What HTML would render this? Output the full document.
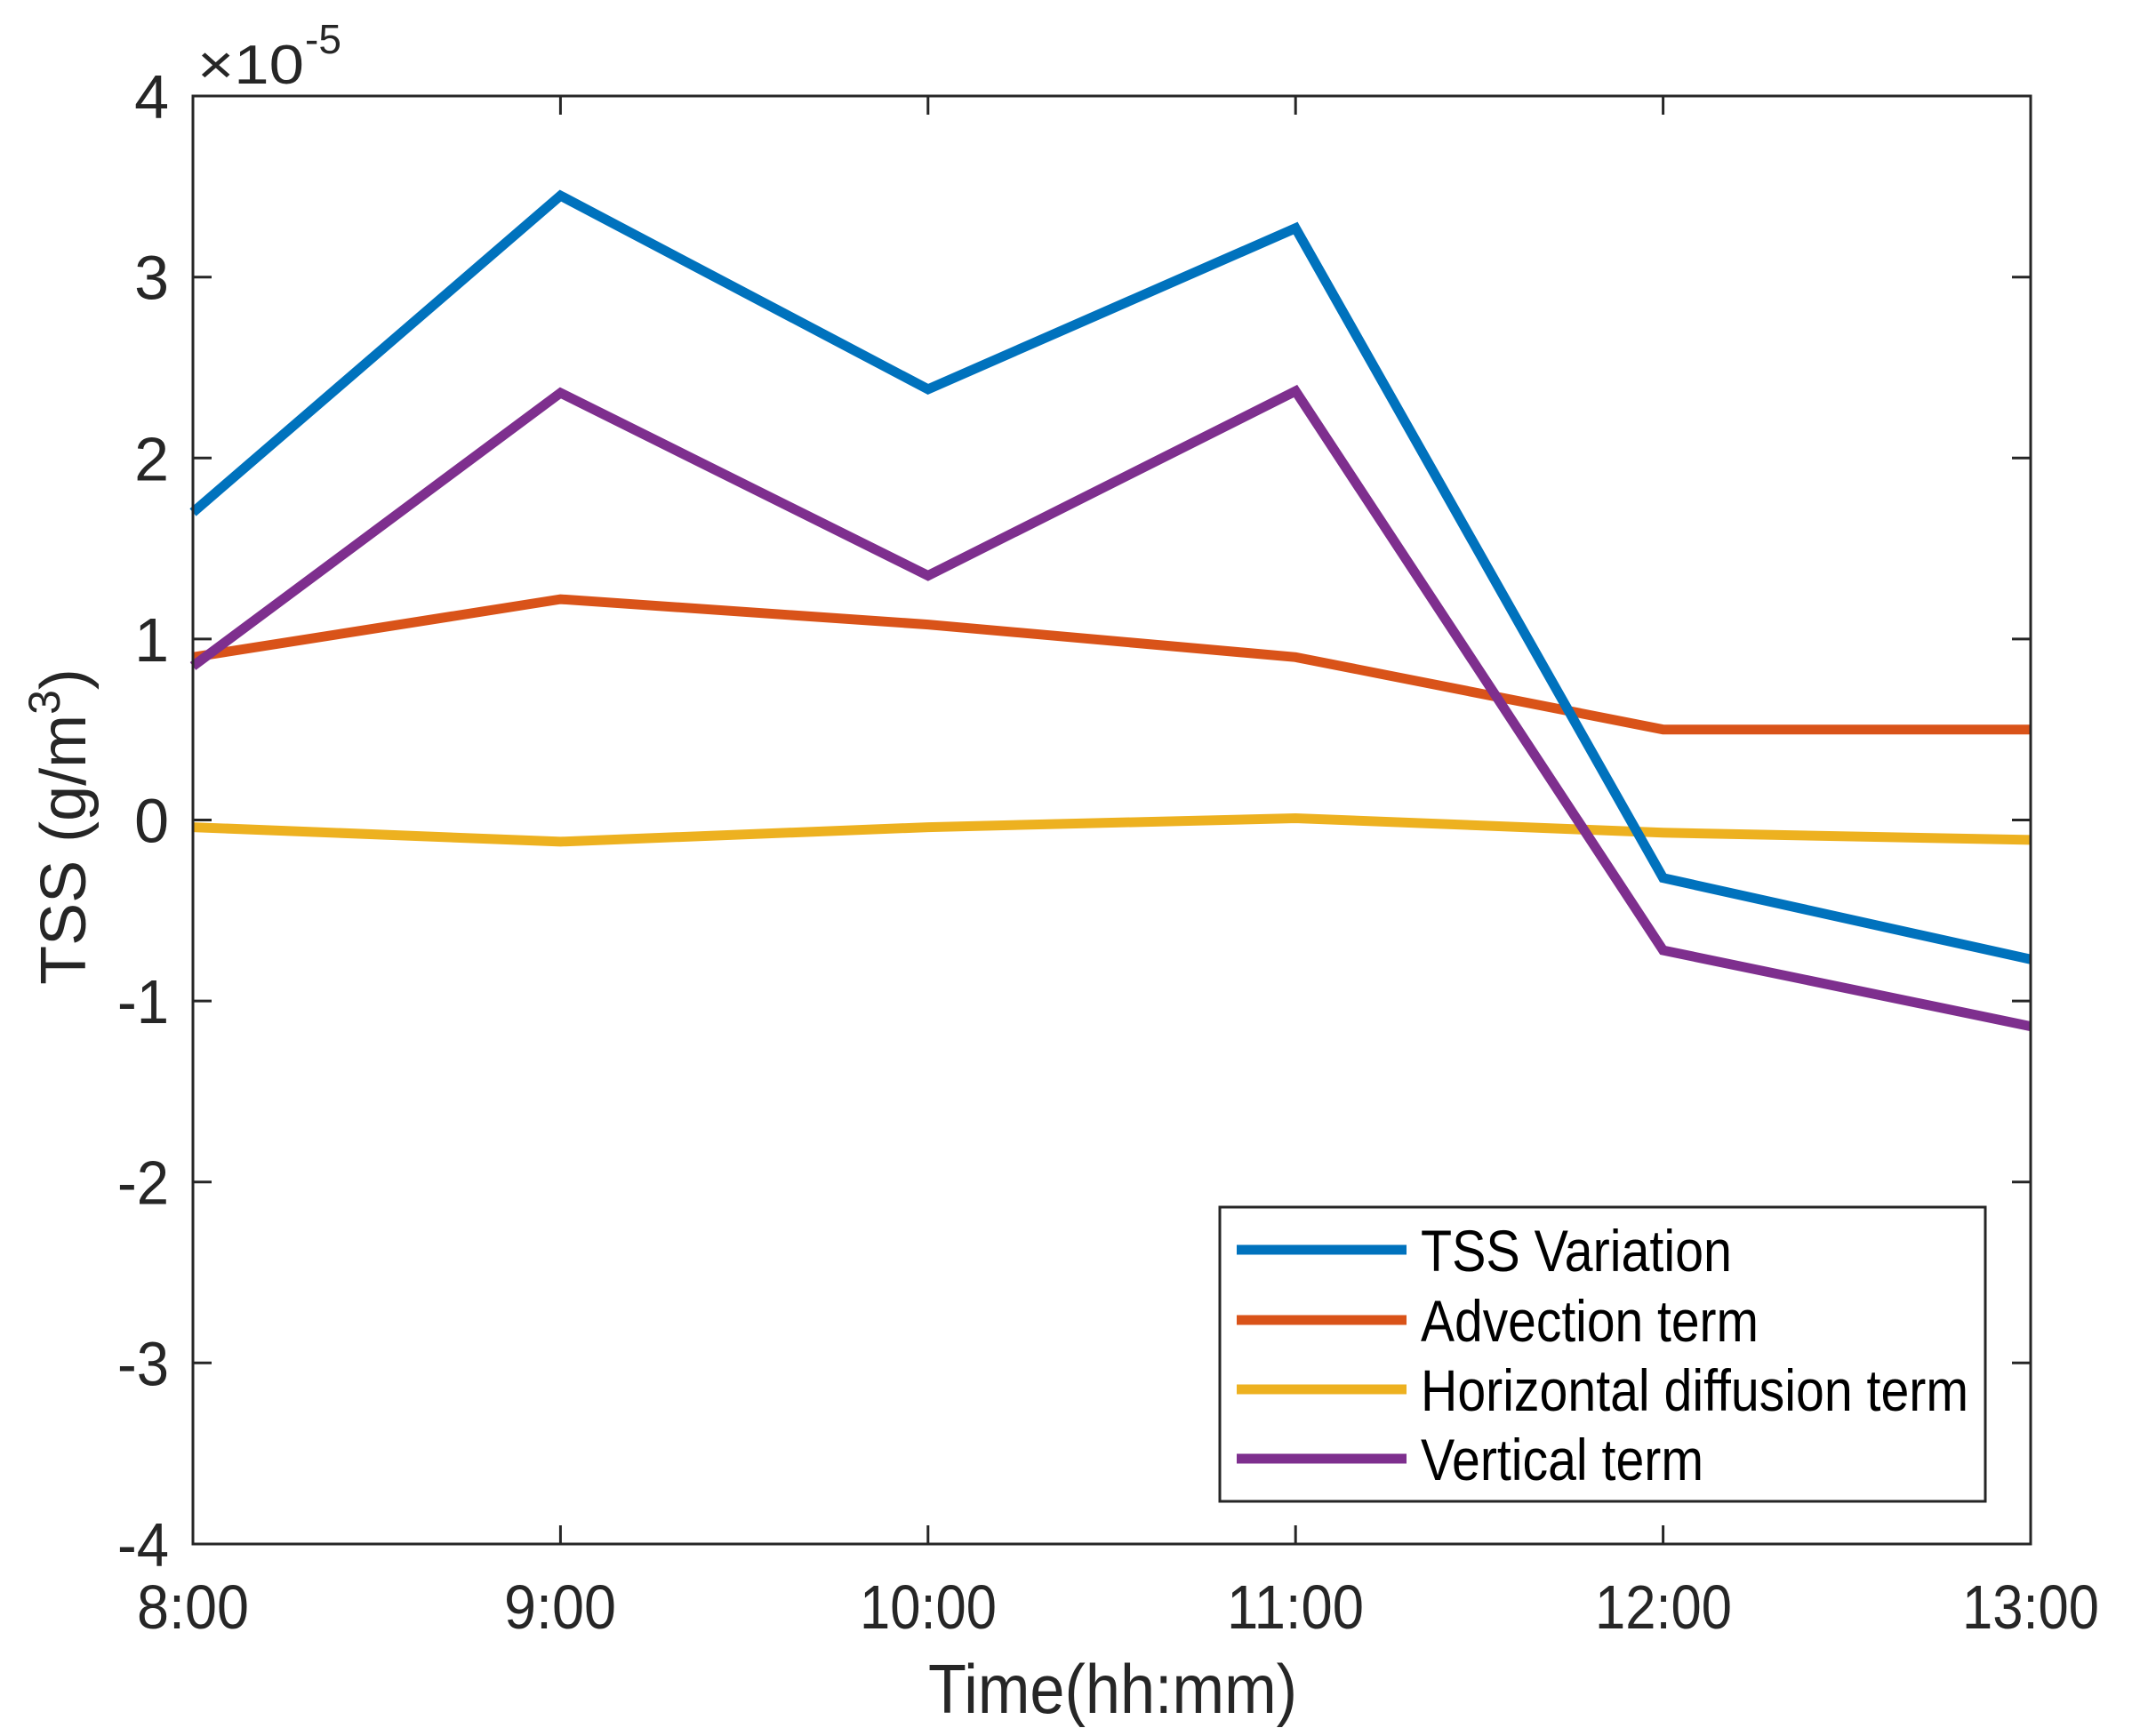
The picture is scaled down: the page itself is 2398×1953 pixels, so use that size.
<!DOCTYPE html>
<html><head><meta charset="utf-8"><style>
html,body{margin:0;padding:0;background:#fff;}
svg{display:block;}
text{font-family:"Liberation Sans",Arial,sans-serif;fill:#262626;}
</style></head><body>
<svg width="2398" height="1953" viewBox="0 0 2398 1953" xmlns="http://www.w3.org/2000/svg">
<rect width="2398" height="1953" fill="#fff"/>
<g fill="none" stroke-width="11" stroke-linejoin="miter" stroke-linecap="butt">
<polyline stroke="#EDB120" points="217,930.6 630.4,946.9 1043.8,930.6 1457.2,920.5 1870.6,936.8 2284,944.9"/>
<polyline stroke="#D95319" points="217,739.3 630.4,674.1 1043.8,702.6 1457.2,739.3 1870.6,820.7 2284,820.7"/>
<polyline stroke="#7E2F8E" points="217,749.4 630.4,442.0 1043.8,647.6 1457.2,440.0 1870.6,1069.1 2284,1154.6"/>
<polyline stroke="#0072BD" points="217,576.4 630.4,220.1 1043.8,437.9 1457.2,256.7 1870.6,987.7 2284,1079.3"/>
</g>
<rect x="217" y="108" width="2067" height="1629" fill="none" stroke="#262626" stroke-width="3"/>
<g stroke="#262626" stroke-width="3">
<line x1="630.4" y1="1737" x2="630.4" y2="1716"/><line x1="630.4" y1="108" x2="630.4" y2="129"/>
<line x1="1043.8" y1="1737" x2="1043.8" y2="1716"/><line x1="1043.8" y1="108" x2="1043.8" y2="129"/>
<line x1="1457.2" y1="1737" x2="1457.2" y2="1716"/><line x1="1457.2" y1="108" x2="1457.2" y2="129"/>
<line x1="1870.6" y1="1737" x2="1870.6" y2="1716"/><line x1="1870.6" y1="108" x2="1870.6" y2="129"/>
<line x1="217" y1="311.7" x2="238" y2="311.7"/><line x1="2284" y1="311.7" x2="2263" y2="311.7"/>
<line x1="217" y1="515.3" x2="238" y2="515.3"/><line x1="2284" y1="515.3" x2="2263" y2="515.3"/>
<line x1="217" y1="718.9" x2="238" y2="718.9"/><line x1="2284" y1="718.9" x2="2263" y2="718.9"/>
<line x1="217" y1="922.5" x2="238" y2="922.5"/><line x1="2284" y1="922.5" x2="2263" y2="922.5"/>
<line x1="217" y1="1126.1" x2="238" y2="1126.1"/><line x1="2284" y1="1126.1" x2="2263" y2="1126.1"/>
<line x1="217" y1="1329.7" x2="238" y2="1329.7"/><line x1="2284" y1="1329.7" x2="2263" y2="1329.7"/>
<line x1="217" y1="1533.3" x2="238" y2="1533.3"/><line x1="2284" y1="1533.3" x2="2263" y2="1533.3"/>
</g>
<g font-size="70" text-anchor="end">
<text x="190" y="133">4</text>
<text x="190" y="336.7">3</text>
<text x="190" y="540.3">2</text>
<text x="190" y="743.9">1</text>
<text x="190" y="947.5">0</text>
<text x="190" y="1151.1" textLength="58" lengthAdjust="spacingAndGlyphs">-1</text>
<text x="190" y="1354.7" textLength="58" lengthAdjust="spacingAndGlyphs">-2</text>
<text x="190" y="1558.3" textLength="58" lengthAdjust="spacingAndGlyphs">-3</text>
<text x="190" y="1761.9" textLength="58" lengthAdjust="spacingAndGlyphs">-4</text>
</g>
<g font-size="70">
<text x="154" y="1832" textLength="126" lengthAdjust="spacingAndGlyphs">8:00</text>
<text x="567" y="1832" textLength="126" lengthAdjust="spacingAndGlyphs">9:00</text>
<text x="967" y="1832" textLength="154" lengthAdjust="spacingAndGlyphs">10:00</text>
<text x="1380" y="1832" textLength="154" lengthAdjust="spacingAndGlyphs">11:00</text>
<text x="1794" y="1832" textLength="154" lengthAdjust="spacingAndGlyphs">12:00</text>
<text x="2207" y="1832" textLength="154" lengthAdjust="spacingAndGlyphs">13:00</text>
</g>
<text x="222" y="94" font-size="62" textLength="120" lengthAdjust="spacingAndGlyphs">×10</text>
<text x="343" y="60" font-size="46">-5</text>
<text x="1044" y="1927" font-size="78" textLength="415" lengthAdjust="spacingAndGlyphs">Time(hh:mm)</text>
<text transform="translate(96,930) rotate(-90)" font-size="72" text-anchor="middle">TSS (g/m<tspan font-size="50" dy="-29">3</tspan><tspan dy="29">)</tspan></text>
<rect x="1372" y="1358" width="861" height="331" fill="#fff" stroke="#262626" stroke-width="3"/>
<g stroke-width="11">
<line x1="1391" y1="1406" x2="1582" y2="1406" stroke="#0072BD"/>
<line x1="1391" y1="1485" x2="1582" y2="1485" stroke="#D95319"/>
<line x1="1391" y1="1563" x2="1582" y2="1563" stroke="#EDB120"/>
<line x1="1391" y1="1641" x2="1582" y2="1641" stroke="#7E2F8E"/>
</g>
<g font-size="66">
<text x="1598" y="1430" style="fill:#000" textLength="350" lengthAdjust="spacingAndGlyphs">TSS Variation</text>
<text x="1598" y="1509" style="fill:#000" textLength="380" lengthAdjust="spacingAndGlyphs">Advection term</text>
<text x="1598" y="1587" style="fill:#000" textLength="616" lengthAdjust="spacingAndGlyphs">Horizontal diffusion term</text>
<text x="1598" y="1665" style="fill:#000" textLength="318" lengthAdjust="spacingAndGlyphs">Vertical term</text>
</g>
</svg>
</body></html>
